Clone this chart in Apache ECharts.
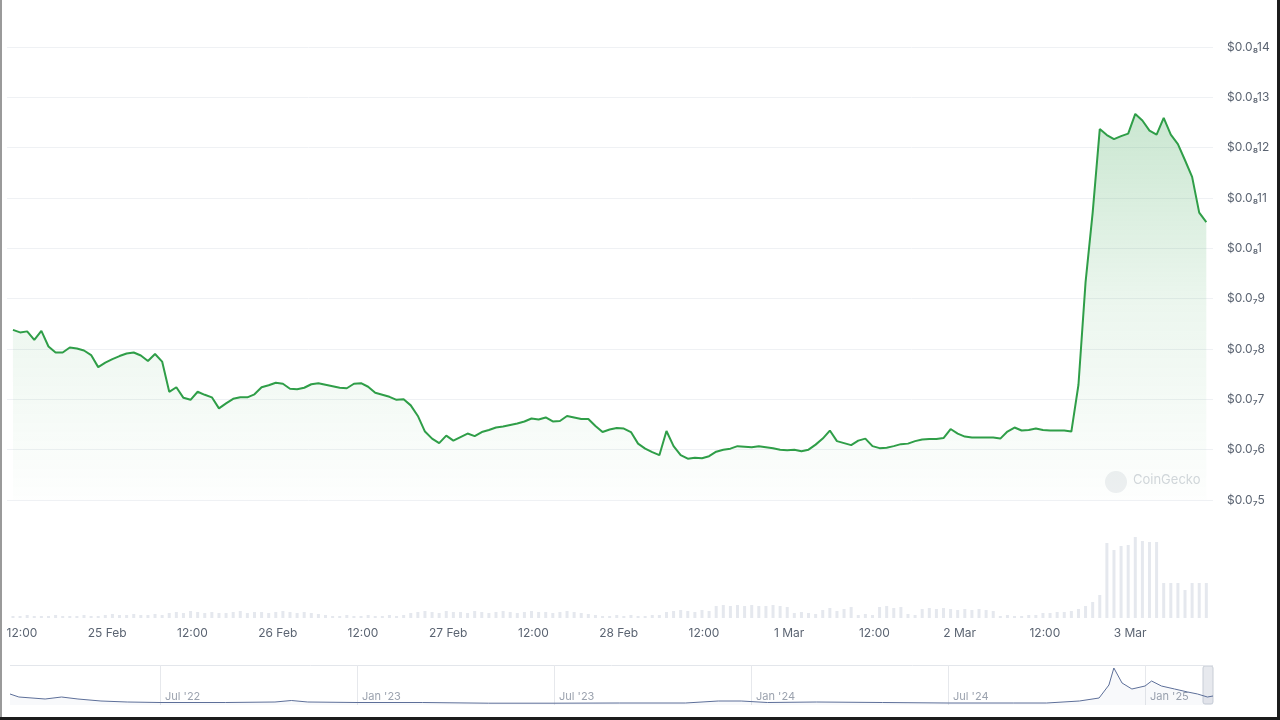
<!DOCTYPE html>
<html>
<head>
<meta charset="utf-8">
<script src="https://cdn.jsdelivr.net/npm/echarts@6/dist/echarts.min.js"></script>
<style>
  html, body { margin: 0; padding: 0; background: #fff; }
  #chart { width: 1280px; height: 720px; }
  .edge { position: absolute; background: #1c1c1c; }
</style>
</head>
<body>
<div id="chart"></div>
<div class="edge" style="left:0;top:0;width:2px;height:720px;background:#9a9a9a"></div>
<div class="edge" style="right:0;top:0;width:3px;height:720px"></div>
<div class="edge" style="left:0;bottom:0;width:1280px;height:3px"></div>
<script>
// hourly samples, hours counted from 24 Feb 00:00
const firstHour = 10.73

// price in units of 1e-9 USD
const prices = [
  8.38, 8.33, 8.35, 8.18, 8.36, 8.05, 7.93, 7.93, 8.03, 8.01,
  7.97, 7.88, 7.64, 7.73, 7.80, 7.86, 7.91, 7.93, 7.87, 7.76,
  7.90, 7.75, 7.15, 7.24, 7.03, 6.99, 7.15, 7.09, 7.04, 6.82,
  6.92, 7.01, 7.04, 7.04, 7.10, 7.24, 7.28, 7.33, 7.31, 7.21,
  7.20, 7.23, 7.30, 7.32, 7.29, 7.26, 7.23, 7.22, 7.31, 7.32,
  7.25, 7.13, 7.09, 7.05, 6.99, 7.00, 6.88, 6.67, 6.36, 6.22,
  6.13, 6.28, 6.18, 6.25, 6.32, 6.27, 6.35, 6.39, 6.44, 6.46,
  6.49, 6.52, 6.56, 6.62, 6.60, 6.64, 6.56, 6.57, 6.67, 6.64,
  6.61, 6.61, 6.47, 6.35, 6.40, 6.43, 6.42, 6.35, 6.12, 6.02,
  5.95, 5.89, 6.37, 6.07, 5.89, 5.82, 5.84, 5.83, 5.87, 5.96,
  6.00, 6.02, 6.07, 6.06, 6.05, 6.07, 6.05, 6.03, 6.00, 5.99,
  6.00, 5.97, 6.00, 6.10, 6.22, 6.38, 6.17, 6.13, 6.09, 6.18,
  6.22, 6.07, 6.03, 6.04, 6.07, 6.11, 6.12, 6.17, 6.20, 6.21,
  6.21, 6.23, 6.41, 6.32, 6.26, 6.24, 6.24, 6.24, 6.24, 6.22,
  6.36, 6.44, 6.38, 6.39, 6.42, 6.39, 6.38, 6.38, 6.38, 6.36,
  7.29, 9.33, 10.71, 12.37, 12.25, 12.17, 12.23, 12.28, 12.67, 12.54,
  12.34, 12.26, 12.59, 12.26, 12.07, 11.75, 11.42, 10.71, 10.52
]

// hourly volume (relative units)
const volumes = [
  2, 2, 3, 2, 2, 2, 3, 2, 2, 2, 3, 2, 2,
  3, 4, 3, 3, 4, 3, 3, 4, 3,
  5, 6, 5, 7, 6, 5, 6, 5, 5, 6, 7, 5, 6, 6, 5, 6, 7, 6, 5, 6, 5, 4,
  3, 2, 2, 3, 2, 2, 3, 2, 2, 3, 2, 3,
  5, 6, 7, 6, 5, 7, 6, 6, 5, 7, 6, 5, 6, 7, 6, 5, 6, 7, 6, 6, 5, 6, 7, 6, 5, 4,
  3, 2, 2, 3, 2, 3, 2, 2, 3, 3,
  6, 7, 8, 7, 6, 8, 7,
  12, 13, 12, 13, 12, 13, 12, 12, 13, 12, 11,
  5, 6, 5, 4,
  8, 10, 7, 9, 11,
  3, 4, 3,
  11, 12, 10, 11,
  4, 3,
  9, 10, 9, 10, 9, 8, 9, 8, 9, 8, 7,
  2, 3, 2, 2, 3, 3,
  5, 5, 6, 6,
  7, 9, 12, 16, 23,
  75, 68, 72, 73, 81, 77, 76, 76,
  35, 35, 35, 28, 35, 35, 35
]

const xTickHours = [12, 24, 36, 48, 60, 72, 84, 96, 108, 120, 132, 144, 156, 168]
const xTickLabels = ['12:00', '25 Feb', '12:00', '26 Feb', '12:00', '27 Feb', '12:00',
  '28 Feb', '12:00', '1 Mar', '12:00', '2 Mar', '12:00', '3 Mar']

const yTickLabels = ['$0.0₇5', '$0.0₇6', '$0.0₇7', '$0.0₇8', '$0.0₇9',
  '$0.0₈1', '$0.0₈11', '$0.0₈12', '$0.0₈13', '$0.0₈14']

// navigator: full history, months counted from Jan 2022
const histMonths = [1.43, 1.7, 2.5, 3.0, 3.5, 4.2, 5, 6, 8, 9.5,
  10, 10.5, 12, 14, 16, 18, 20, 22, 23, 23.7,
  24.5, 26, 28, 30, 32, 33, 34, 34.6, 34.9, 35.05,
  35.3, 35.6, 36, 36.2, 36.5, 36.9, 37.3, 37.6, 37.9, 38.07]
const histValues = [11, 8, 6, 8, 6, 4, 3, 2.5, 2.5, 3,
  4.5, 3, 2.5, 2.5, 1.8, 1.8, 2, 2, 4, 4,
  2.5, 3, 2.5, 2, 2, 2, 4, 7, 20, 37,
  22, 16, 19, 24, 19, 16, 13, 11, 8, 9]
const navTickMonths = [6, 12, 18, 24, 30, 36]
const navTickLabels = ["Jul '22", "Jan '23", "Jul '23", "Jan '24", "Jul '24", "Jan '25"]

const hours = prices.map((_, i) => firstHour + i)
const xMin = 9.89
const xMax = 179.67

const txt = '#5b6472'
const chart = echarts.init(document.getElementById('chart'))

chart.setOption({
  animation: false,
  textStyle: { fontFamily: 'Inter, "DejaVu Sans", sans-serif' },
  grid: [
    { left: 7, right: 67, top: 47, bottom: 220 },
    { left: 7, right: 67, top: 530, bottom: 102 },
    { left: 10, right: 67, top: 665, bottom: 15 }
  ],
  xAxis: [
    { type: 'value', gridIndex: 0, min: xMin, max: xMax, show: false },
    {
      type: 'value', gridIndex: 1, min: xMin, max: xMax,
      axisLine: { show: false }, axisTick: { show: false }, splitLine: { show: false },
      axisLabel: {
        customValues: xTickHours,
        formatter: v => xTickLabels[xTickHours.indexOf(v)],
        color: txt, fontSize: 12, margin: 9
      }
    },
    {
      type: 'value', gridIndex: 2, min: 1.43, max: 38.07,
      axisLine: { show: false }, splitLine: { show: false },
      axisTick: { show: true, inside: true, length: 40, customValues: navTickMonths, lineStyle: { color: '#e6e8ec' } },
      axisLabel: {
        inside: true, customValues: navTickMonths,
        formatter: v => navTickLabels[navTickMonths.indexOf(v)],
        align: 'left', padding: [0, 0, 0, 5], margin: 3,
        color: '#9ba2ae', fontSize: 11
      }
    }
  ],
  yAxis: [
    {
      type: 'value', gridIndex: 0, position: 'right', min: 5, max: 14, interval: 1,
      axisLine: { show: false }, axisTick: { show: false },
      splitLine: { lineStyle: { color: '#eff1f4' } },
      axisLabel: { formatter: v => yTickLabels[v - 5], margin: 14, color: txt, fontSize: 12 }
    },
    { type: 'value', gridIndex: 1, min: 0, max: 88, show: false },
    {
      type: 'value', gridIndex: 2, min: 0, max: 40, interval: 40,
      axisLine: { show: false }, axisTick: { show: false }, axisLabel: { show: false },
      splitLine: { show: true, lineStyle: { color: ['transparent', '#e3e6eb'] } }
    }
  ],
  series: [
    {
      type: 'line', xAxisIndex: 0, yAxisIndex: 0,
      data: hours.map((h, i) => [h, prices[i]]),
      showSymbol: false,
      lineStyle: { color: '#2f9e48', width: 2 },
      areaStyle: {
        color: new echarts.graphic.LinearGradient(0, 0, 0, 1, [
          { offset: 0, color: 'rgba(47,160,74,0.36)' },
          { offset: 0.5, color: 'rgba(47,160,74,0.13)' },
          { offset: 1, color: 'rgba(47,160,74,0.01)' }
        ])
      }
    },
    {
      type: 'bar', xAxisIndex: 1, yAxisIndex: 1,
      data: hours.map((h, i) => [h, volumes[i]]),
      barWidth: 3,
      itemStyle: { color: '#e5e8ee' }
    },
    {
      type: 'line', xAxisIndex: 2, yAxisIndex: 2,
      data: histMonths.map((m, i) => [m, histValues[i]]),
      showSymbol: false,
      lineStyle: { color: '#5d6f99', width: 1 },
      areaStyle: { color: 'rgba(93,111,153,0.06)' }
    }
  ],
  graphic: [
    { type: 'circle', shape: { cx: 1116, cy: 482, r: 11 }, style: { fill: '#eef0f2' } },
    { type: 'text', left: 1133, top: 474, style: { text: 'CoinGecko', fontSize: 13, fill: '#d3d7dc', fontFamily: 'Inter, sans-serif' } },
    { type: 'rect', shape: { x: 1203, y: 666, width: 10, height: 38, r: 2 }, style: { fill: '#e7e9ee', stroke: '#c8cdd6' } }
  ]
})
</script>
</body>
</html>
